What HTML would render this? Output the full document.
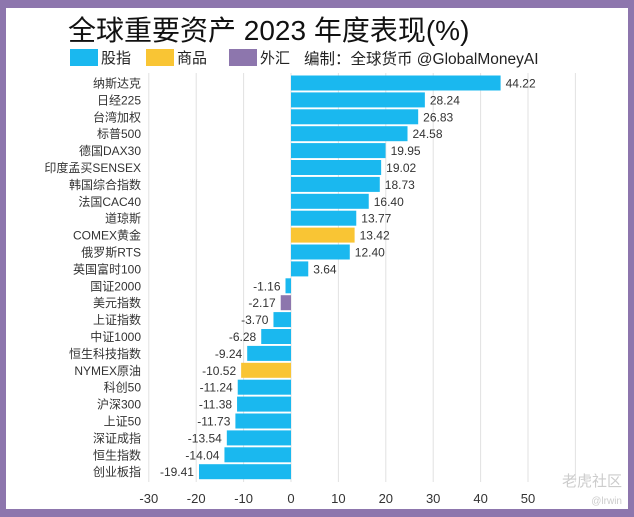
<!DOCTYPE html>
<html><head><meta charset="utf-8">
<style>
body{margin:0;width:634px;height:517px;background:#8d76ad;overflow:hidden;font-family:"Liberation Sans","Noto Sans CJK SC",sans-serif;}
#card{position:absolute;left:6px;top:8px;width:622px;height:501px;background:#fff;}
#title{position:absolute;left:68px;top:9px;font-size:28px;color:#111;white-space:nowrap;}
.leg{position:absolute;top:47px;font-size:15px;color:#222;white-space:nowrap;}
.sw{display:inline-block;width:28px;height:17px;vertical-align:-3px;margin-right:3px;}
</style></head><body>
<div id="card"></div>
<div id="title">全球重要资产 2023 年度表现(%)</div>
<div class="leg" style="left:70px"><span class="sw" style="background:#1ab8ef"></span>股指</div>
<div class="leg" style="left:146px"><span class="sw" style="background:#f9c534"></span>商品</div>
<div class="leg" style="left:229px"><span class="sw" style="background:#8d76ad"></span>外汇</div>
<div class="leg" style="left:304px;font-size:15.5px">编制：全球货币 @GlobalMoneyAI</div>
<svg id="chart" width="634" height="517" style="position:absolute;left:0;top:0"></svg>
<script>
const categories=["纳斯达克","日经225","台湾加权","标普500","德国DAX30","印度孟买SENSEX","韩国综合指数","法国CAC40","道琼斯","COMEX黄金","俄罗斯RTS","英国富时100","国证2000","美元指数","上证指数","中证1000","恒生科技指数","NYMEX原油","科创50","沪深300","上证50","深证成指","恒生指数","创业板指"];
const values=[44.22,28.24,26.83,24.58,19.95,19.02,18.73,16.40,13.77,13.42,12.40,3.64,-1.16,-2.17,-3.70,-6.28,-9.24,-10.52,-11.24,-11.38,-11.73,-13.54,-14.04,-19.41];
const types=["s","s","s","s","s","s","s","s","s","c","s","s","s","f","s","s","s","c","s","s","s","s","s","s"];
const ticks=[-30,-20,-10,0,10,20,30,40,50,60];
const colors={s:"#1ab8ef",c:"#f9c534",f:"#8d76ad"};
const svg=document.getElementById('chart');
const NS="http://www.w3.org/2000/svg";
const x=v=>291+v*4.74;
const y=i=>83+i*16.9;
function mk(t,a){const e=document.createElementNS(NS,t);for(const k in a)e.setAttribute(k,a[k]);svg.appendChild(e);return e;}
ticks.forEach(t=>{
  const g=mk('line',{x1:x(t),x2:x(t),y1:73,y2:482,stroke:'#e2e2e2','stroke-width':1});
  
  
  if(t<60){const l=mk('text',{x:x(t),y:503,'text-anchor':'middle','font-size':13,fill:'#333'});l.textContent=t;
  
  }
});
categories.forEach((c,i)=>{
  const v=values[i],cy=y(i);
  const r=mk('rect',{x:Math.min(x(0),x(v)),y:cy-7.5,width:Math.abs(x(v)-x(0)),height:15,fill:colors[types[i]]});
  
  
  const l=mk('text',{x:141,y:cy+4.5,'text-anchor':'end','font-size':12,fill:'#333'});l.textContent=c;
  
  
  const vl=mk('text',{x:v>=0?x(v)+5:x(v)-5,y:cy+4.5,'text-anchor':v>=0?'start':'end','font-size':12,fill:'#333'});
  vl.textContent=v.toFixed(2);
  
  
});
const w=mk('text',{x:622,y:486,'text-anchor':'end','font-size':15,fill:'#ccc'});w.textContent='老虎社区';


const w2=mk('text',{x:622,y:504,'text-anchor':'end','font-size':10,fill:'#ccc'});w2.textContent='@lrwin';


</script>
</body></html>
